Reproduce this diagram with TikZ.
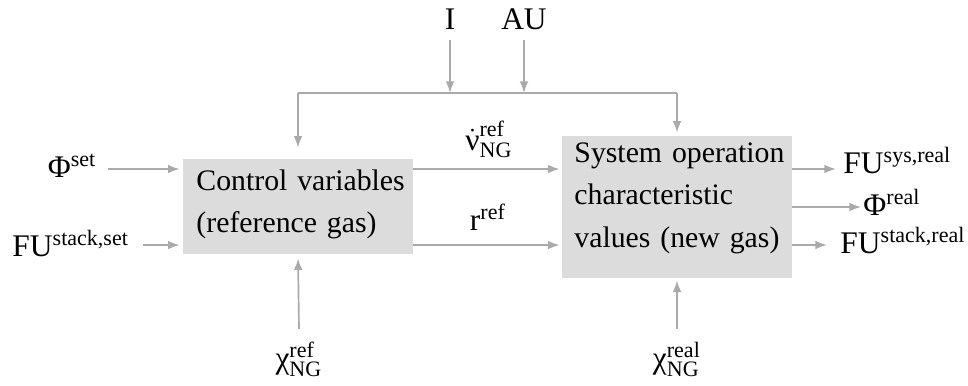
\documentclass[tikz,border=0pt]{standalone}
\usepackage{amsmath}
\usepackage{fontspec}
\setmainfont{Liberation Serif}
\usetikzlibrary{arrows.meta}
\definecolor{boxgray}{RGB}{220,220,220}
\definecolor{linegray}{RGB}{170,170,170}
\begin{document}
\begin{tikzpicture}[x=0.4133pt,y=-0.4133pt,
  arr/.style={draw=linegray, line width=0.7pt, -{Latex[length=4.8pt,width=3.6pt]}},
  plain/.style={draw=linegray, line width=0.7pt},
  box/.style={fill=boxgray, inner sep=0pt},
  boxtext/.style={inner sep=0pt, align=left, text width=100pt, font=\fontsize{12.3}{17.6}\selectfont},
  lbl/.style={inner sep=0pt, font=\fontsize{13}{15}\selectfont}]
\useasboundingbox (0,0) rectangle (968,385);
% row coordinates
\coordinate (r1) at (0,169);
\coordinate (rm) at (0,207);
\coordinate (r2) at (0,245);
\coordinate (top) at (0,40);
\coordinate (bus) at (0,93);
\coordinate (bot) at (0,329);
% boxes
\node[box, minimum width=230*0.4133pt, minimum height=95*0.4133pt] (cv) at (298,206.5) {};
\node[box, minimum width=230*0.4133pt, minimum height=142*0.4133pt] (sys) at (677,207) {};
\node[boxtext, anchor=base west] (cvt) at (196,190) {Control variables\\(reference gas)};
\node[boxtext, anchor=base west] (syst) at (574,162) {System operation\\characteristic\\values (new gas)};
% labels
\node[lbl, anchor=base] (I) at (450,29) {I};
\node[lbl, anchor=base] (AU) at (524,29) {AU};
\node[lbl, anchor=base east] (phiset) at (97,177) {Φ$^{\text{set}}$};
\node[lbl, anchor=base west] (fuset) at (12,256) {FU$^{\text{stack,set}}$};
\node[lbl, anchor=base] (nu) at (489,150) {$\dot{\text{ν}}^{\text{ref}}_{\text{NG}}$};
\node[lbl, anchor=base] (rref) at (488,230) {r$^{\text{ref}}$};
\node[lbl, anchor=base west] (fusys) at (843,173) {FU$^{\text{sys,real}}$};
\node[lbl, anchor=base west] (phireal) at (863,215) {Φ$^{\text{real}}$};
\node[lbl, anchor=base west] (fustack) at (840,253) {FU$^{\text{stack,real}}$};
\node[lbl, anchor=base] (chiref) at (299,368) {$\text{χ}^{\text{ref}}_{\text{NG}}$};
\node[lbl, anchor=base] (chireal) at (677,368) {$\text{χ}^{\text{real}}_{\text{NG}}$};
% top inputs and bus
\draw[arr] (I |- top) -- (I |- bus);
\draw[arr] (AU |- top) -- (AU |- bus);
\draw[plain] (cv.north |- bus) -- (sys.north |- bus);
\draw[arr, shorten >=4.5pt] (cv.north |- bus) -- (cv.north);
\draw[arr, shorten >=1.2pt] (sys.north |- bus) -- (sys.north);
% left inputs
\draw[arr, shorten <=4.5pt, shorten >=1.2pt] (phiset.east |- r1) -- (cv.west |- r1);
\draw[arr, shorten <=5.4pt, shorten >=1.2pt] (fuset.east |- r2) -- (cv.west |- r2);
% between boxes
\draw[arr, shorten >=0.8pt] (cv.east |- r1) -- (sys.west |- r1);
\draw[arr, shorten >=0.8pt] (cv.east |- r2) -- (sys.west |- r2);
% outputs
\draw[arr, shorten >=2.9pt] (sys.east |- r1) -- (fusys.west |- r1);
\draw[arr, shorten >=0.8pt] (sys.east |- rm) -- (phireal.west |- rm);
\draw[arr, shorten >=5.4pt] (sys.east |- r2) -- (fustack.west |- r2);
% bottom inputs
\draw[arr, shorten >=1.6pt] (chiref.north |- bot) -- (cv.south);
\draw[arr, shorten >=0.8pt] (chireal.north |- bot) -- (sys.south);
\end{tikzpicture}
\end{document}
